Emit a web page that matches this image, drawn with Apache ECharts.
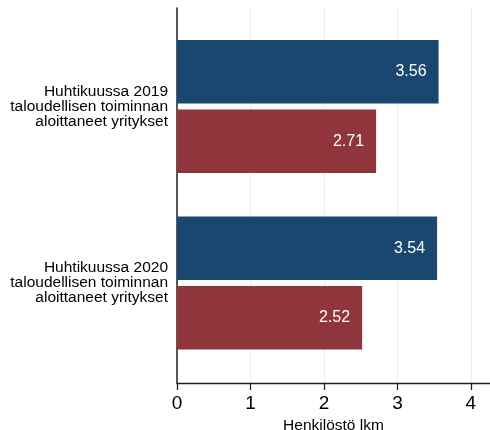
<!DOCTYPE html>
<html>
<head>
<meta charset="utf-8">
<script src="https://cdn.jsdelivr.net/npm/echarts@6/dist/echarts.min.js"></script>
<style>
  html, body { margin: 0; padding: 0; background: #fff; }
  #chart { width: 490px; height: 430px; }
</style>
</head>
<body>
<div id="chart"></div>
<script>
const categories = [
  "Huhtikuussa 2019\ntaloudellisen toiminnan\naloittaneet yritykset",
  "Huhtikuussa 2020\ntaloudellisen toiminnan\naloittaneet yritykset"
];
const seriesA = [3.56, 3.54];
const seriesB = [2.71, 2.52];
const xTicks = [0, 1, 2, 3, 4];
const xName = "Henkilöstö lkm";

const FONT = "Liberation Sans, Arial, sans-serif";
const chart = echarts.init(document.getElementById('chart'), null, { renderer: 'canvas' });
const xMax = 4.26;

const option = {
  backgroundColor: '#ffffff',
  animation: false,
  textStyle: { fontFamily: FONT },
  grid: [
    { left: 177, right: 0, top: 8, bottom: 47, containLabel: false, outerBoundsMode: 'none' },
    { left: 177, right: 0, top: 18.25, bottom: 58.75, containLabel: false, outerBoundsMode: 'none' }
  ],
  xAxis: [
    {
      gridIndex: 0, type: 'value', min: 0, max: xMax, interval: 1,
      axisLine: { show: true, lineStyle: { color: '#222', width: 1.3 } },
      axisTick: { show: true, length: 7, inside: false, customValues: xTicks,
        lineStyle: { color: '#222', width: 1.3 } },
      axisLabel: {
        fontSize: 19, color: '#000', fontFamily: FONT, margin: 11,
        customValues: xTicks,
        formatter: v => String(v)
      },
      splitLine: { show: true, lineStyle: { color: '#e8f0f2', width: 1.3 } },
      name: xName, nameLocation: 'middle', nameGap: 29,
      nameTextStyle: { fontSize: 15.5, color: '#000', fontFamily: FONT }
    },
    {
      gridIndex: 1, type: 'value', min: 0, max: xMax, show: false
    }
  ],
  yAxis: [
    {
      gridIndex: 0, type: 'value', min: 0, max: 1,
      axisLine: { show: true, lineStyle: { color: '#222', width: 1.5 } },
      axisTick: { show: false }, axisLabel: { show: false }, splitLine: { show: false }
    },
    {
      gridIndex: 1, type: 'category', data: categories, inverse: true,
      axisLine: { show: false }, axisTick: { show: false }, splitLine: { show: false },
      axisLabel: {
        fontSize: 15.5, color: '#000', fontFamily: FONT, margin: 9,
        lineHeight: 15, align: 'right'
      }
    }
  ],
  series: [
    {
      type: 'bar', xAxisIndex: 1, yAxisIndex: 1, data: seriesA,
      barWidth: 63.5, barGap: '9.5%',
      itemStyle: { color: '#1a476f' },
      label: {
        show: true, position: 'insideRight', distance: 12,
        color: '#fff', fontSize: 16, fontFamily: FONT,
        formatter: p => p.value.toFixed(2)
      }
    },
    {
      type: 'bar', xAxisIndex: 1, yAxisIndex: 1, data: seriesB,
      barWidth: 63.5, barGap: '9.5%',
      itemStyle: { color: '#90353b' },
      label: {
        show: true, position: 'insideRight', distance: 12,
        color: '#fff', fontSize: 16, fontFamily: FONT,
        formatter: p => p.value.toFixed(2)
      }
    }
  ]
};
chart.setOption(option);
</script>
</body>
</html>
